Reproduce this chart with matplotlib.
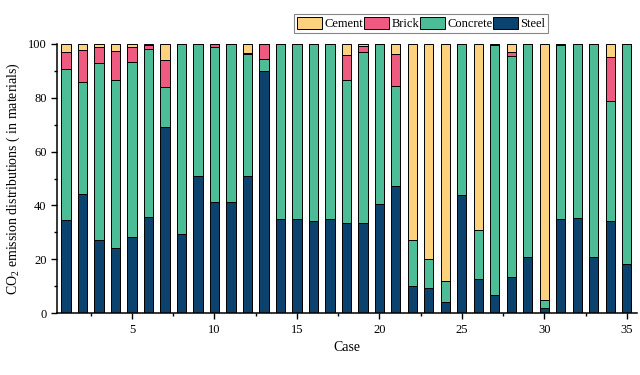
"""Stacked CO2 emission share by material for each case."""

import matplotlib

matplotlib.use("Agg")
import matplotlib.pyplot as plt
import numpy as np
from matplotlib.ticker import MultipleLocator

cases = np.arange(1, 36)

steel = [34.5, 44.4, 27.3, 24.3, 28.3, 35.7, 69.0, 29.5, 51.1, 41.1,
         41.2, 50.9, 90.1, 35.1, 34.9, 34.1, 34.9, 33.3, 33.5, 40.7,
         47.1, 9.9, 9.4, 4.1, 43.7, 12.8, 6.6, 13.4, 20.8, 2.0,
         34.9, 35.2, 20.8, 34.2, 18.4]
concrete = [56.1, 41.3, 65.5, 62.1, 64.9, 62.5, 15.1, 70.5, 48.9, 57.7,
            58.8, 45.4, 4.2, 64.9, 65.1, 65.9, 65.1, 53.3, 63.3, 59.3,
            37.3, 17.4, 10.8, 7.8, 56.3, 18.0, 92.8, 82.1, 79.2, 3.0,
            64.5, 64.8, 79.2, 44.7, 81.6]
brick = [6.3, 12.1, 6.0, 11.1, 5.6, 1.4, 9.9, 0, 0, 1.2,
         0, 0.3, 5.7, 0, 0, 0, 0, 9.2, 2.5, 0,
         11.9, 0, 0, 0, 0, 0, 0.6, 1.6, 0, 0,
         0.6, 0, 0, 16.4, 0]
cement = [3.1, 2.2, 1.2, 2.5, 1.2, 0.4, 6.0, 0, 0, 0,
          0, 3.4, 0, 0, 0, 0, 0, 4.2, 0.7, 0,
          3.7, 72.7, 79.8, 88.1, 0, 69.2, 0, 2.9, 0, 95.0,
          0, 0, 0, 4.7, 0]

SERIES = [
    ("Steel", steel, "#0B426E"),
    ("Concrete", concrete, "#4DBD97"),
    ("Brick", brick, "#EF5B80"),
    ("Cement", cement, "#FDD27F"),
]

plt.rcParams.update({
    "font.family": "Liberation Serif",
    "font.size": 9,
    "mathtext.fontset": "custom",
    "mathtext.rm": "Liberation Serif",
    "mathtext.it": "Liberation Serif:italic",
})

fig = plt.figure(figsize=(6.4, 3.75), dpi=100)
ax = fig.add_axes([0.089, 0.165, 0.906, 0.718])

bottom = np.zeros(len(cases))
handles = {}
for name, vals, color in SERIES:
    vals = np.asarray(vals)
    h = ax.bar(cases, vals, width=0.55, bottom=bottom, color=color,
               edgecolor="black", linewidth=0.7, label=name)
    handles[name] = h
    bottom += vals

ax.set_xlim(0.45, 35.6)
ax.set_ylim(0, 100)
ax.xaxis.set_major_locator(MultipleLocator(5))
ax.xaxis.set_minor_locator(MultipleLocator(2.5))
ax.yaxis.set_major_locator(MultipleLocator(20))
ax.yaxis.set_minor_locator(MultipleLocator(10))
ax.tick_params(which="major", direction="out", length=4, width=1)
ax.tick_params(which="minor", direction="out", length=2.5, width=1)
for side in ("top", "right"):
    ax.spines[side].set_visible(False)
for side in ("left", "bottom"):
    ax.spines[side].set_linewidth(1.1)

ax.set_xlabel("Case", fontsize=10)
ax.set_ylabel("CO$_2$ emission distributions ( in materials)", fontsize=10)

order = ["Cement", "Brick", "Concrete", "Steel"]
leg = ax.legend([handles[n] for n in order], order, ncol=4,
                loc="upper center", bbox_to_anchor=(0.628, 1.11),
                fancybox=False, framealpha=1, edgecolor="#888888",
                handlelength=2.0, handleheight=1.0, handletextpad=0.2,
                columnspacing=0.05, borderpad=0.25, borderaxespad=0)
leg.get_frame().set_linewidth(0.8)

fig.savefig("out.png")
